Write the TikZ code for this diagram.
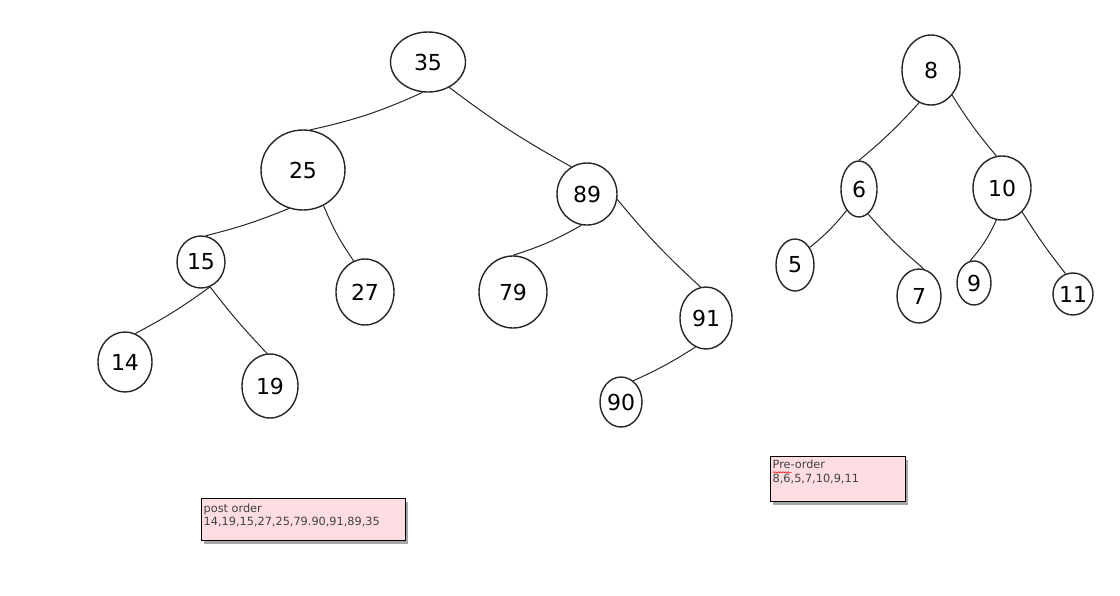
\documentclass[tikz,border=0pt]{standalone}
\usepackage{fontspec}
\setmainfont{DejaVu Sans}
\usetikzlibrary{shapes.geometric,shadows,decorations.pathmorphing}
\begin{document}
\begin{tikzpicture}[x=1pt,y=-1pt,
  tnode/.style={draw=black!85, line width=1.4pt, ellipse, inner sep=0pt,
    font=\fontsize{22}{22}\selectfont},
  tedge/.style={draw=black!85, line width=1pt},
  notebox/.style={draw=black, line width=1pt, fill={rgb,255:red,255;green,221;blue,226},
    inner sep=0pt, anchor=north west,
    drop shadow={shadow xshift=2pt, shadow yshift=-3pt, opacity=0.35, fill=black}},
  notetext/.style={anchor=north west, align=left, inner sep=0pt, text=black!75,
    font=\fontsize{11.3}{13}\selectfont}]
\useasboundingbox (0,0) rectangle (1120,595);
% left tree
\node[tnode, minimum width=75, minimum height=60] (n35) at (428,62) {35};
\node[tnode, minimum width=84, minimum height=80] (n25) at (303,170) {25};
\node[tnode, minimum width=60, minimum height=62] (n89) at (587,194) {89};
\node[tnode, minimum width=48, minimum height=52] (n15) at (201,262) {15};
\node[tnode, minimum width=58, minimum height=66] (n27) at (365,292) {27};
\node[tnode, minimum width=68, minimum height=72] (n79) at (513,292) {79};
\node[tnode, minimum width=52, minimum height=62] (n91) at (706,318) {91};
\node[tnode, minimum width=54, minimum height=60] (n14) at (125,362) {14};
\node[tnode, minimum width=56, minimum height=64] (n19) at (270,386) {19};
\node[tnode, minimum width=42, minimum height=50] (n90) at (621,402) {90};
% right tree
\node[tnode, minimum width=58, minimum height=70] (n8) at (931,70) {8};
\node[tnode, minimum width=36, minimum height=56] (n6) at (859,189) {6};
\node[tnode, minimum width=58, minimum height=64] (n10) at (1002,188) {10};
\node[tnode, minimum width=38, minimum height=52] (n5) at (795,265) {5};
\node[tnode, minimum width=44, minimum height=54] (n7) at (919,296) {7};
\node[tnode, minimum width=34, minimum height=44] (n9) at (974,283) {9};
\node[tnode, minimum width=40, minimum height=42] (n11) at (1073,294) {11};
% edges
\draw[tedge] (n35.-100) to[bend left=6] (n25.80);
\draw[tedge] (n35.-50) to[bend right=4] (n89.120);
\draw[tedge] (n25.-110) to[bend left=4] (n15.80);
\draw[tedge] (n25.-60) to[bend right=6] (n27.110);
\draw[tedge] (n89.-100) to[bend left=6] (n79.90);
\draw[tedge] (n89.-10) to[bend right=4] (n91.100);
\draw[tedge] (n15.-70) to[bend left=4] (n14.70);
\draw[tedge] (n15.-70) to[bend right=3] (n19.95);
\draw[tedge] (n91.-110) to[bend left=4] (n90.60);
\draw[tedge] (n8.-110) to[bend left=4] (n6.90);
\draw[tedge] (n8.-50) to[bend right=4] (n10.100);
\draw[tedge] (n6.-120) to[bend left=6] (n5.50);
\draw[tedge] (n6.-70) to[bend right=4] (n7.80);
\draw[tedge] (n10.-100) to[bend left=8] (n9.100);
\draw[tedge] (n10.-50) to[bend right=3] (n11.110);
% notes
\node[notebox, minimum width=204, minimum height=42] (post) at (201,498) {};
\node[notetext] (posttext) at ([xshift=2.5pt,yshift=-5.5pt]post.north west)
  {post order\\14,19,15,27,25,79.90,91,89,35};
\node[notebox, minimum width=135, minimum height=45] (pre) at (770,456) {};
\node[notetext, font=\fontsize{11.3}{14}\selectfont] (pretext) at ([xshift=2.5pt,yshift=-4pt]pre.north west)
  {Pre-order\\8,6,5,7,10,9,11};
\draw[red, line width=0.5pt, decorate, decoration={snake, amplitude=0.6pt, segment length=2.5pt}]
  ([yshift=-12.3pt]pretext.north west) -- ++(19,0);
\end{tikzpicture}
\end{document}
